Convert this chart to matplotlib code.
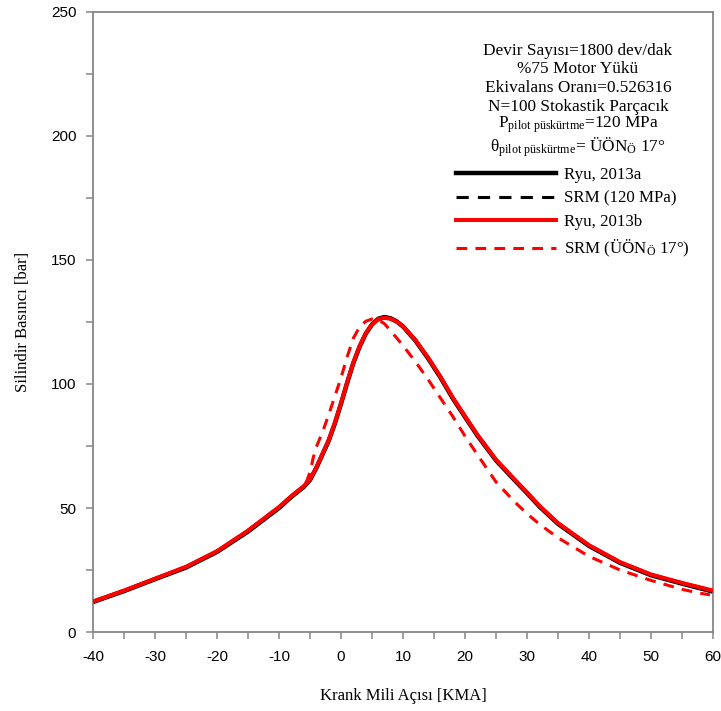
import matplotlib
matplotlib.use("Agg")
import matplotlib.pyplot as plt
from matplotlib.lines import Line2D
import numpy as np

# ---- data ----
ryu_x = [-40, -35, -30, -25, -20, -15, -10, -8, -6, -5, -4, -3, -2, -1, 0, 1, 2, 3, 4, 5, 6, 7, 8, 9, 10,
         12, 14, 16, 18, 20, 22, 25, 28, 30, 32, 35, 40, 45, 50, 55, 60]
ryu_a = [12.1, 16.5, 21.3, 26.0, 32.3, 40.5, 50.0, 54.5, 58.5, 61.3, 66.0, 71.5, 77.0, 84.0, 92.0, 100.5,
         108.5, 115.0, 120.3, 124.0, 126.3, 127.0, 126.5, 125.2, 123.2, 117.5, 110.5, 102.8, 94.3, 86.7,
         79.2, 69.2, 61.2, 56.0, 50.6, 43.6, 34.7, 27.9, 22.9, 19.5, 16.3]
ryu_b = [12.3, 16.7, 21.5, 26.3, 32.6, 40.9, 50.4, 54.8, 58.8, 61.6, 66.3, 71.8, 77.3, 84.3, 92.3, 100.8,
         108.8, 115.3, 120.5, 124.1, 126.1, 126.7, 126.3, 125.1, 123.3, 117.7, 110.8, 103.1, 94.6, 87.0,
         79.5, 69.5, 61.5, 56.3, 50.9, 43.9, 35.0, 28.2, 23.2, 19.8, 16.7]
srm120_x = ryu_x
srm120 = ryu_b

srm17_x = [-40, -35, -30, -25, -20, -15, -10, -8, -6, -5.5, -5, -4.5, -4, -3, -2, -1, 0, 1, 2, 3, 4, 5, 6,
           7, 8, 9, 10, 12, 14, 16, 18, 20, 22, 25, 28, 30, 32, 35, 40, 45, 50, 55, 58, 59.5]
srm17 = [12.3, 16.7, 21.5, 26.3, 32.6, 40.9, 50.4, 55.0, 59.0, 61.0, 64.5, 70.0, 74.5, 80.5, 87.5, 95.0,
         102.5, 111.0, 118.5, 123.0, 125.3, 126.2, 126.0, 124.3, 121.5, 118.5, 115.5, 109.0, 102.0, 94.5,
         87.0, 79.0, 71.5, 60.5, 52.5, 47.7, 43.5, 38.0, 30.5, 25.0, 20.8, 17.2, 15.6, 15.0]

labels = ["Ryu, 2013a", "SRM (120 MPa)", "Ryu, 2013b", "SRM (ÜÖN$_{\\mathrm{Ö}}$ 17°)"]

plt.rcParams['mathtext.fontset'] = 'custom'
plt.rcParams['mathtext.rm'] = 'Liberation Serif'
plt.rcParams['mathtext.it'] = 'Liberation Serif'
plt.rcParams['axes.unicode_minus'] = False

fig = plt.figure(figsize=(7.21, 7.11), dpi=100)
ax = fig.add_axes([93/721, 1-632/711, 620/721, 620/711])

ax.plot(ryu_x, ryu_a, color='black', lw=3.2, solid_capstyle='round', zorder=2)
ax.plot(srm120_x, srm120, color='black', lw=2.2, ls=(0, (4, 3)), zorder=2)
ax.plot(ryu_x, ryu_b, color='#ff0000', lw=2.9, solid_capstyle='round', zorder=3)
ax.plot(srm17_x, srm17, color='#ff0000', lw=2.2, ls=(0, (3.5, 2.7)), zorder=4)

ax.set_xlim(-40, 60)
ax.set_ylim(0, 250)
ax.set_xticks(np.arange(-40, 61, 10))
ax.set_xticks(np.arange(-40, 61, 5), minor=True)
ax.set_yticks(np.arange(0, 251, 50))
ax.set_yticks(np.arange(0, 251, 25), minor=True)
gray = '#868686'
for s in ax.spines.values():
    s.set_color(gray)
    s.set_linewidth(1.3)
ax.tick_params(which='both', direction='out', color=gray, width=1.1, length=5,
               labelsize=11, pad=7)
ax.tick_params(axis='x', which='both', top=False, pad=8)
for lab in ax.get_xticklabels() + ax.get_yticklabels():
    lab.set_fontfamily('Liberation Sans')

ax.set_xlabel("Krank Mili Açısı [KMA]", fontfamily='Liberation Serif', fontsize=12, labelpad=17)
ax.set_ylabel("Silindir Basıncı [bar]", fontfamily='Liberation Serif', fontsize=12, labelpad=14)

info = ["Devir Sayısı=1800 dev/dak",
        "%75 Motor Yükü",
        "Ekivalans Oranı=0.526316",
        "N=100 Stokastik Parçacık",
        "P$_{\\mathrm{pilot\\ püskürtme}}$=120 MPa",
        "θ$_{\\mathrm{pilot\\ püskürtme}}$= ÜÖN$_{\\mathrm{Ö}}$ 17°"]
ys = [51, 69, 88, 107, 125, 147]
for t, y in zip(info, ys):
    ax.text(578/721, 1-y/711, t, transform=fig.transFigure, ha='center', va='center',
            fontfamily='Liberation Serif', fontsize=12.4)

handles = [Line2D([], [], color='black', lw=3.2),
           Line2D([], [], color='black', lw=2.2, ls=(0, (4, 3))),
           Line2D([], [], color='#ff0000', lw=2.9),
           Line2D([], [], color='#ff0000', lw=2.2, ls=(0, (3.5, 2.7)))]
leg = ax.legend(handles, labels, loc='upper left', bbox_to_anchor=(456/721, 1-167/711),
                bbox_transform=fig.transFigure, frameon=False, handlelength=5.9,
                handletextpad=0.45, labelspacing=0.45, borderaxespad=0, borderpad=0,
                prop={'family': 'Liberation Serif', 'size': 12.2})

fig.savefig("out.png", dpi=100)
